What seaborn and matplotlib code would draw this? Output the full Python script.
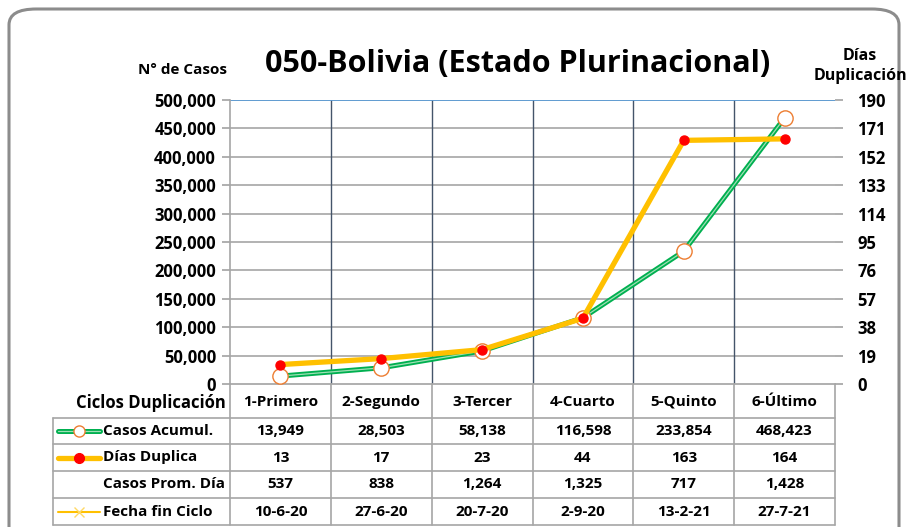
import matplotlib
matplotlib.use("Agg")
import matplotlib.pyplot as plt
from matplotlib.patches import FancyBboxPatch
from matplotlib.lines import Line2D
import seaborn as sns
import pandas as pd

# --- DATA ---
ciclos = ["1-Primero", "2-Segundo", "3-Tercer", "4-Cuarto", "5-Quinto", "6-Último"]
casos_acumul = [13949, 28503, 58138, 116598, 233854, 468423]
dias_duplica = [13, 17, 23, 44, 163, 164]
casos_prom_dia = [537, 838, 1264, 1325, 717, 1428]
fecha_fin = ["10-6-20", "27-6-20", "20-7-20", "2-9-20", "13-2-21", "27-7-21"]
left_ticks = list(range(0, 500001, 50000))
right_ticks = list(range(0, 191, 19))

df = pd.DataFrame({"ciclo": ciclos, "pos": range(len(ciclos)),
                   "casos": casos_acumul, "dias": dias_duplica})

GREEN = "#00B050"
YELLOW = "#FFC000"
W, H = 908, 527

sns.set_theme(style="white")
plt.rcParams["font.family"] = ["Open Sans", "DejaVu Sans"]
plt.rcParams["font.weight"] = "bold"
plt.rcParams["text.color"] = "black"
plt.rcParams["ytick.color"] = "black"

fig = plt.figure(figsize=(W / 100, H / 100), dpi=100)

def fx(px): return px / W
def fy(py): return 1 - py / H

# outer rounded frame
frame = FancyBboxPatch((fx(9), fy(560)), fx(890), fy(9) - fy(560),
                       boxstyle="round,pad=0,rounding_size=0.03",
                       transform=fig.transFigure, fill=False,
                       edgecolor="#8c8c8c", linewidth=2.2, clip_on=False)
fig.patches.append(frame)

L, R, T, B = 230, 835, 100, 384
ax = fig.add_axes([fx(L), fy(B), fx(R - L), fy(T) - fy(B)])
ax2 = ax.twinx()

# gridlines
for v in left_ticks[1:]:
    ax.axhline(v, color="#a6a6a6", lw=1.2, zorder=0)
for i in range(1, len(ciclos)):
    ax.axvline(i - 0.5, color="#44546A", lw=1.0, zorder=0)

# Casos Acumulados (double green line)
sns.lineplot(data=df, x="pos", y="casos", ax=ax, color=GREEN, lw=3.6, zorder=3)
sns.lineplot(data=df, x="pos", y="casos", ax=ax, color="#9fdfb5", lw=0.9, zorder=3)
ax.plot(df["pos"], df["casos"], ls="none", marker="o", ms=11,
        mfc="white", mec="#ED7D31", mew=1.0, zorder=4)

# Dias duplicacion
sns.lineplot(data=df, x="pos", y="dias", ax=ax2, color=YELLOW, lw=3.8, zorder=3)
ax2.plot(df["pos"], df["dias"], ls="none", marker="o", ms=6.5,
         mfc="#FF0000", mec="#FF0000", zorder=4)

for a in (ax, ax2):
    a.set_xlim(-0.5, len(ciclos) - 0.5)
    a.set_xlabel("")
    a.set_ylabel("")
    a.set_xticks([])
    for s in a.spines.values():
        s.set_visible(False)
ax.set_ylim(0, 500000)
ax2.set_ylim(0, 190)
ax.set_yticks(left_ticks)
ax.set_yticklabels([f"{v:,}" for v in left_ticks], fontsize=12, fontweight="bold")
ax2.set_yticks(right_ticks)
ax2.set_yticklabels([str(v) for v in right_ticks], fontsize=12, fontweight="bold")
ax.tick_params(axis="y", length=6, color="#a6a6a6", labelcolor="black", pad=4, left=True)
ax2.tick_params(axis="y", length=6, color="#a6a6a6", labelcolor="black", pad=10, right=True)
ax.spines["left"].set_visible(True)
ax.spines["left"].set_color("#a6a6a6")
ax.spines["left"].set_linewidth(1.2)
ax.spines["bottom"].set_visible(True)
ax.spines["bottom"].set_color("#a6a6a6")
ax.axhline(500000, color="#5B9BD5", lw=1.3, zorder=1)

# titles
fig.text(fx(518), fy(64), "050-Bolivia (Estado Plurinacional)", ha="center",
         va="center", fontsize=22, fontweight="bold")
fig.text(fx(183), fy(70), "N° de Casos", ha="center", va="center",
         fontsize=11, fontweight="bold")
fig.text(fx(860), fy(66), "Días\nDuplicación", ha="center", va="center",
         fontsize=11.5, fontweight="bold", linespacing=1.3)

# data table
tab = fig.add_axes([0, 0, 1, 1], facecolor="none")
tab.set_xlim(0, W)
tab.set_ylim(H, 0)
tab.axis("off")
GRID = "#a6a6a6"
rows_y = [418, 444, 471, 498, 525]
for y in rows_y:
    tab.plot([53, R], [y, y], color=GRID, lw=1.2)
tab.plot([53, 53], [418, 525], color=GRID, lw=1.2)
col_w = (R - L) / len(ciclos)
for i in range(len(ciclos) + 1):
    tab.plot([L + i * col_w] * 2, [B, 525], color=GRID, lw=1.2)

tab.text(226, 403, "Ciclos Duplicación", ha="right", va="center",
         fontsize=12, fontweight="bold")
row_labels = ["Casos Acumul.", "Días Duplica", "Casos Prom. Día", "Fecha fin Ciclo"]
row_vals = [[f"{v:,}" for v in casos_acumul],
            [str(v) for v in dias_duplica],
            [f"{v:,}" for v in casos_prom_dia],
            fecha_fin]
centers = [(rows_y[k] + rows_y[k + 1]) / 2 for k in range(4)]
for i, c in enumerate(ciclos):
    cx = L + (i + 0.5) * col_w
    tab.text(cx, 402, c, ha="center", va="center", fontsize=11, fontweight="bold")
    for k in range(4):
        tab.text(cx, centers[k], row_vals[k][i], ha="center", va="center",
                 fontsize=11, fontweight="bold")
for k, lab in enumerate(row_labels):
    tab.text(103, centers[k], lab, ha="left", va="center", fontsize=11,
             fontweight="bold")

# legend keys
yk = centers[0]
tab.add_line(Line2D([58, 100], [yk, yk], color=GREEN, lw=3.6))
tab.add_line(Line2D([58, 100], [yk, yk], color="#9fdfb5", lw=0.9))
tab.add_line(Line2D([79], [yk], ls="none", marker="o", ms=8, mfc="white",
                    mec="#ED7D31", mew=1.0))
yk = centers[1]
tab.add_line(Line2D([58, 100], [yk, yk], color=YELLOW, lw=3.8))
tab.add_line(Line2D([79], [yk], ls="none", marker="o", ms=7, mfc="#FF0000",
                    mec="#FF0000"))
yk = centers[3]
tab.add_line(Line2D([58, 100], [yk, yk], color=YELLOW, lw=1.5))
tab.add_line(Line2D([79], [yk], ls="none", marker="x", ms=7, mec="#FFD966",
                    mew=1.0))

fig.savefig("out.png", dpi=100)
